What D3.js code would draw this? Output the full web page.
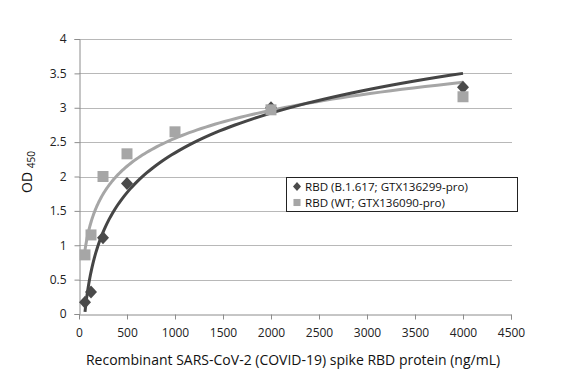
<!DOCTYPE html>
<html><head><meta charset="utf-8">
<script src="https://cdn.jsdelivr.net/npm/d3@7"></script>
<style>body{margin:0;background:#fff}svg{display:block}</style>
</head><body>
<svg id="c" width="582" height="382"></svg>
<script>
const xTicks = [0,500,1000,1500,2000,2500,3000,3500,4000,4500];
const yTicks = [0,0.5,1,1.5,2,2.5,3,3.5,4];
const seriesNames = ["RBD (B.1.617; GTX136299-pro)", "RBD (WT; GTX136090-pro)"];
const concB1617 = [62.5,125,250,500,2000,4000];
const odB1617  = [0.17,0.32,1.11,1.90,3.00,3.30];
const concWT   = [62.5,125,250,500,1000,2000,4000];
const odWT     = [0.86,1.15,2.00,2.33,2.65,2.97,3.16];
// logarithmic trendline coefficients (y = a*ln(x) + b)
const trendB1617 = [0.834,-3.417];
const trendWT    = [0.587,-1.499];
const trendRange = [62.5,4000];

const svg = d3.select("#c");
const font = "'Open Sans', 'DejaVu Sans', sans-serif";
const x = d3.scaleLinear().domain([0,4500]).range([79,511]);
const y = d3.scaleLinear().domain([0,4]).range([314,39]);

// gridlines
svg.append("g").selectAll("line").data(yTicks.slice(1)).join("line")
  .attr("x1",79).attr("x2",512).attr("y1",d=>Math.round(y(d))+0.5).attr("y2",d=>Math.round(y(d))+0.5)
  .attr("stroke","#b8b8b8").attr("stroke-width",1);

// axes
const yAx = svg.append("g").attr("transform","translate(79.5,0)")
  .call(d3.axisLeft(y).tickValues(yTicks).tickSize(5).tickPadding(8).tickFormat(d3.format("")));
const xAx = svg.append("g").attr("transform","translate(0,314.5)")
  .call(d3.axisBottom(x).tickValues(xTicks).tickSize(5).tickPadding(9).tickFormat(d3.format("")));
[yAx,xAx].forEach(a=>{
  a.select(".domain").attr("stroke","#8c8c8c");
  a.selectAll(".tick line").attr("stroke","#8c8c8c");
  a.selectAll("text").attr("fill","#222").style("font-family",font).style("font-size","12px");
});
xAx.select(".tick line").attr("stroke","none");

// trendlines
function trendPts(c){
  const pts=[]; const n=120;
  for(let i=0;i<=n;i++){
    const xv = trendRange[0]*Math.pow(trendRange[1]/trendRange[0], i/n);
    pts.push([xv, c[0]*Math.log(xv)+c[1]]);
  }
  return pts;
}
const line = d3.line().x(d=>x(d[0])).y(d=>y(d[1])).curve(d3.curveLinear);
svg.append("path").attr("d",line(trendPts(trendWT))).attr("fill","none").attr("stroke","#a6a6a6").attr("stroke-width",3);
svg.append("path").attr("d",line(trendPts(trendB1617))).attr("fill","none").attr("stroke","#454545").attr("stroke-width",3);

// markers
const sq = d3.symbol().type(d3.symbolSquare).size(121);
const diamond = (w,h)=>`M0,${-h}L${w},0L0,${h}L${-w},0Z`;
svg.append("g").selectAll("path").data(concB1617.map((c,i)=>[c,odB1617[i]])).join("path")
  .attr("d",diamond(6,6.5)).attr("transform",d=>`translate(${x(d[0])},${y(d[1])})`).attr("fill","#4a4a4a");
svg.append("g").selectAll("path").data(concWT.map((c,i)=>[c,odWT[i]])).join("path")
  .attr("d",sq).attr("transform",d=>`translate(${x(d[0])},${y(d[1])})`).attr("fill","#a6a6a6");

// legend
const lg = svg.append("g");
lg.append("rect").attr("x",286.5).attr("y",177.5).attr("width",231).attr("height",34)
  .attr("fill","#fff").attr("stroke","#222").attr("stroke-width",1);
lg.append("path").attr("d",diamond(4,4.5)).attr("transform","translate(297,186.5)").attr("fill","#4a4a4a");
lg.append("path").attr("d",d3.symbol().type(d3.symbolSquare).size(50)).attr("transform","translate(297,202.5)").attr("fill","#a6a6a6");
lg.selectAll("text").data(seriesNames).join("text")
  .attr("x",305).attr("y",(d,i)=>190.5+i*16).text(d=>d)
  .style("font-family",font).style("font-size","11.6px").attr("fill","#111");

// axis titles
svg.append("text").attr("x",293).attr("y",365).attr("text-anchor","middle")
  .style("font-family",font).style("font-size","14px").attr("fill","#111")
  .text("Recombinant SARS-CoV-2 (COVID-19) spike RBD protein (ng/mL)");
const yt = svg.append("text").attr("transform","translate(32,172) rotate(-90)").attr("text-anchor","middle")
  .style("font-family",font).attr("fill","#111");
yt.append("tspan").style("font-size","14px").text("OD ");
yt.append("tspan").style("font-size","10px").attr("dy",3).text("450");
</script>
</body></html>
